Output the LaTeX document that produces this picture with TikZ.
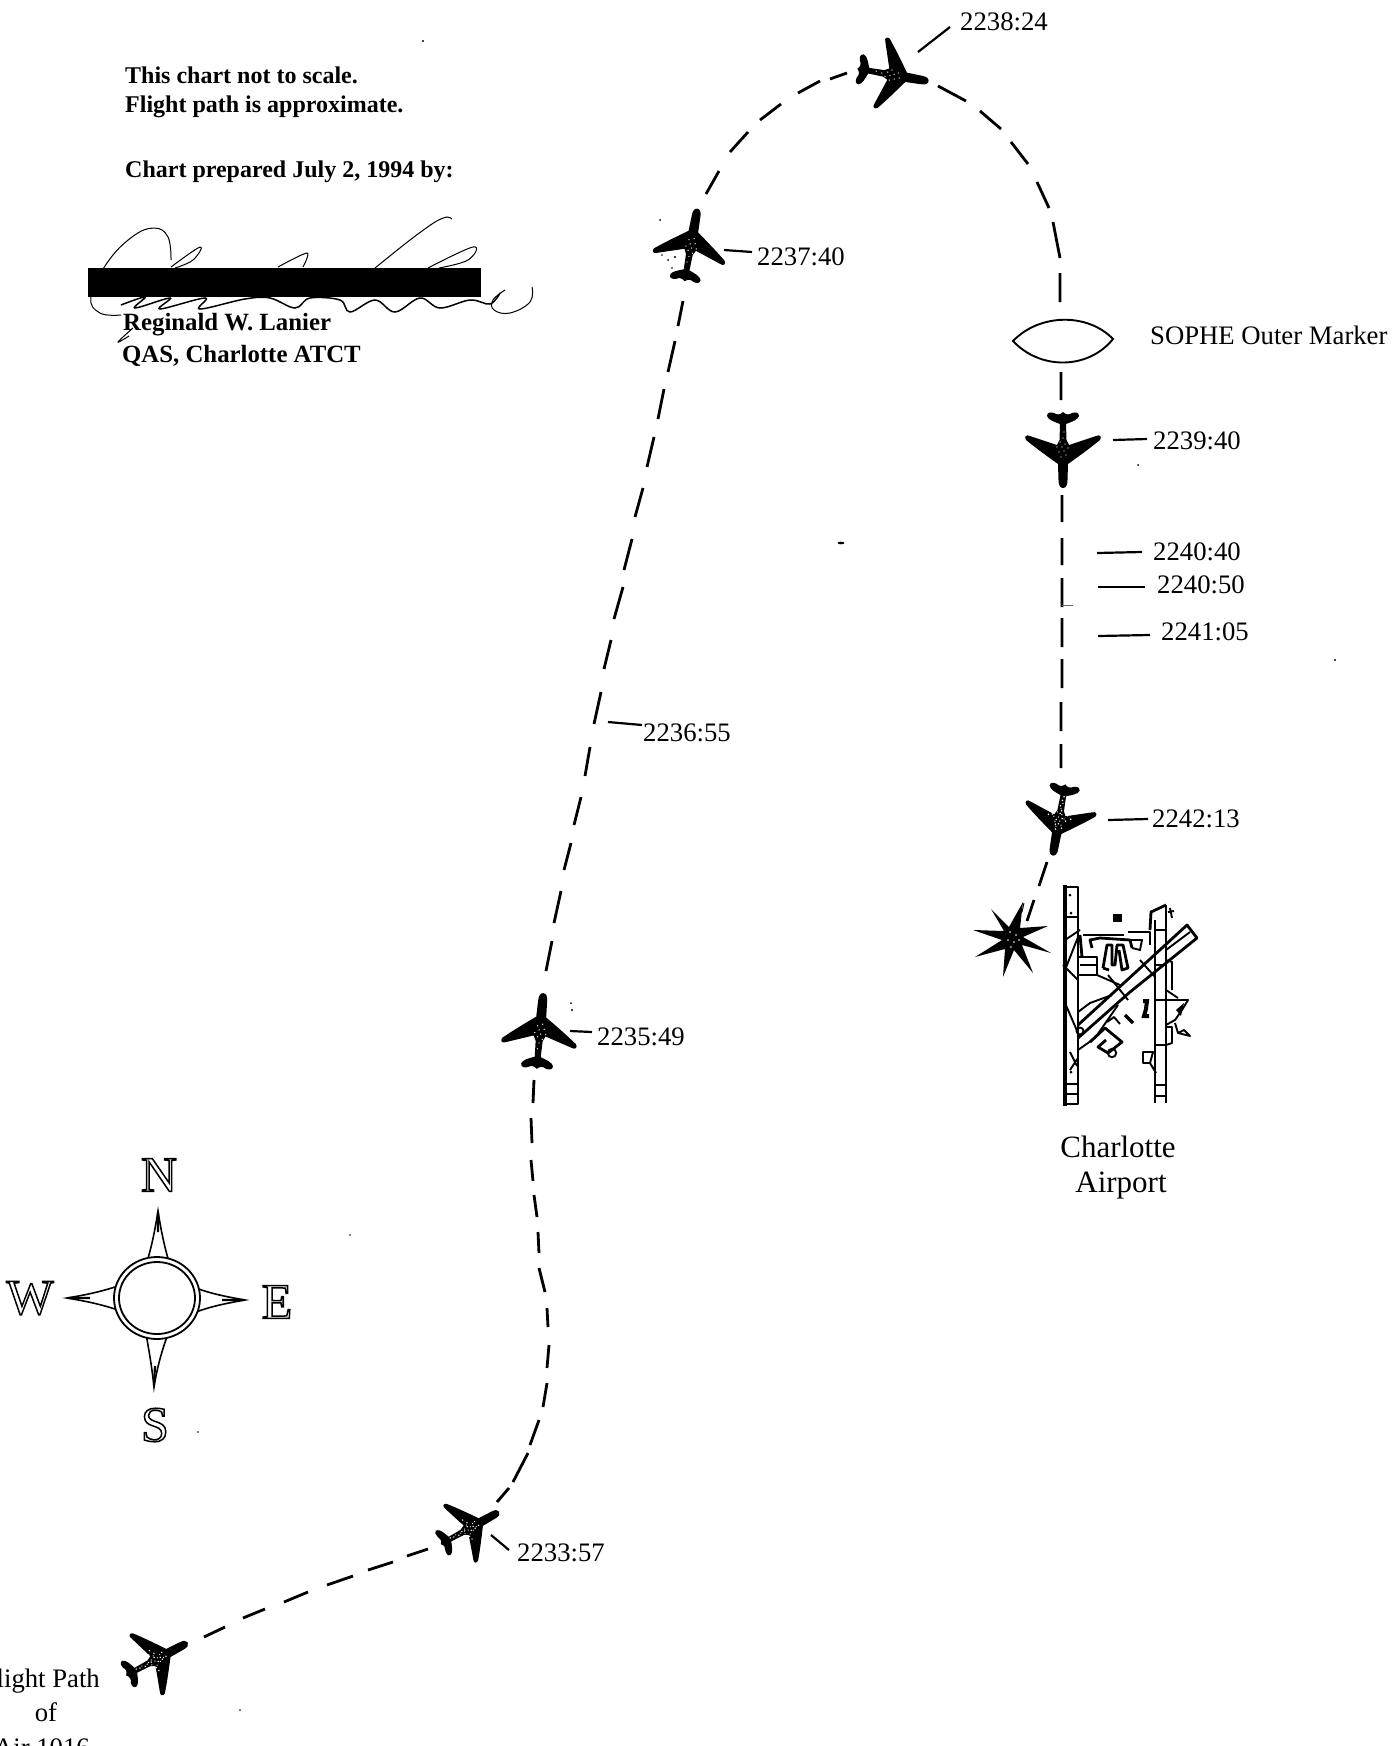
\documentclass[tikz,border=0pt]{standalone}
\usepackage{fontspec}
\setmainfont{Liberation Serif}
\newcommand{\hollowtxt}[1]{\special{pdf:code 1 Tr 1.5 w}#1\special{pdf:code 0 Tr 1 w}}
\tikzset{
  planeshape/.pic={
    \fill[black] (0,-38) .. controls (3,-38) and (4.5,-35) .. (4.5,-30) -- (5,-14)
      .. controls (12,-9) and (26,1) .. (37,10) .. controls (39,13) and (37,16) .. (33,14)
      -- (6,5) -- (3.5,10) -- (3,26) .. controls (8,28) and (15,30) .. (16,34)
      .. controls (16,38) and (12,38) .. (9,37) .. controls (6,35) and (3,35) .. (0,38)
      .. controls (-3,35) and (-6,35) .. (-9,37) .. controls (-12,38) and (-16,38) .. (-16,34)
      .. controls (-15,30) and (-8,28) .. (-3,26) -- (-3.5,10) -- (-6,5) -- (-33,14)
      .. controls (-37,16) and (-39,13) .. (-37,10) .. controls (-26,1) and (-12,-9) .. (-5,-14)
      -- (-4.5,-30) .. controls (-4.5,-35) and (-3,-38) .. (0,-38) -- cycle;
    \foreach \a/\b in {-3/-5,2/-7,-1/-1,4/-2,-5/2,1/3,6/3,-2/6,3/8,0/12,-1/18}
      \fill[white] (\a,\b) circle (.7);
  },
  speckle/.pic={
    \foreach \a/\b in {-4/-8,0/-4,3/-5,-7/0,-3/2,3/0,8/5,-8/6,0/7,-1/10,1/15,0/21,-1/25,2/-10,-12/3,12/4}
      \fill[white] (\a,\b) circle (.9);
  },
  tlabel/.style={font=\fontsize{26.7}{30}\selectfont, inner sep=0pt, anchor=west},
  boldnote/.style={font=\fontsize{24}{30}\selectfont\bfseries, inner sep=0pt, anchor=west},
  boldnoteb/.style={font=\fontsize{24.8}{30}\selectfont\bfseries, inner sep=0pt, anchor=west},
  bignote/.style={font=\fontsize{31}{34}\selectfont, inner sep=0pt},
  cardinal/.style={font=\fontsize{50}{54}\selectfont, inner sep=0pt},
  leader/.style={draw=black, line width=2.2pt},
  fltpath/.style={draw=black, line width=2.8pt},
  sigline/.style={draw=black, line width=1pt},
  rwy/.style={draw=black, line width=2.8pt, line join=round},
  apt/.style={draw=black, line width=1.9pt, line join=round},
  spike/.style={draw=black, line width=1.6pt, fill=white, line join=miter},
  specks/.style={fill=black},
}
\begin{document}
\begin{tikzpicture}[x=1pt,y=-1pt]
\useasboundingbox (0,0) rectangle (1394,1746);
\fill[white] (0,0) rectangle (1394,1746);

% --- notes
\node[boldnote] (n1) at (125,75) {This chart not to scale.};
\node[boldnote] (n2) at (125,107) {Flight path is approximate.};
\node[boldnote] (n3) at (125,172) {Chart prepared July 2, 1994 by:};
\node[boldnoteb] (n4) at (123,325) {Reginald W. Lanier};
\node[boldnoteb] (n5) at (122,356) {QAS, Charlotte ATCT};

% --- signature
\draw[sigline] plot[smooth,tension=.7] coordinates {(171,260) (168,237) (154,228) (132,237) (107,263) (91,297) (100,313) (121,315)};
\draw[sigline] plot[smooth,tension=.7] coordinates {(171,267) (200,247) (193,260) (175,268)};
\draw[sigline] plot[smooth,tension=.5] coordinates {(278,267) (307,253) (303,267)};
\draw[sigline] plot[smooth,tension=.5] coordinates {(375,268) (410,240) (435,222) (447,217) (452,219)};
\draw[sigline] plot[smooth,tension=.7] coordinates {(428,268) (473,247) (468,260) (439,268)};
\draw[sigline] plot[smooth,tension=.7] coordinates {(505,290) (493,300) (494,310) (510,313) (530,302) (532,287)};
\draw[sigline,line width=1.5pt] plot[smooth,tension=.6] coordinates {(121,305) (145,297) (135,308) (170,298) (160,309) (205,298) (200,309) (245,299) (270,298) (295,308) (310,298) (340,300) (350,312) (375,300) (395,312) (420,298) (440,308) (470,300) (490,304) (500,293)};
\draw[sigline] plot[smooth,tension=.7] coordinates {(133,328) (118,342) (129,336)};
\fill[black] (88,268) rectangle (481,297);

% --- flight path
\draw[fltpath]
  (204,1637)--(225,1627) (243,1618)--(265,1609) (284,1602)--(308,1592)
  (327,1585)--(353,1576) (368,1570)--(393,1562) (407,1556)--(428,1549)
  (497,1502)--(509,1488) (513,1482)--(528,1453) (530,1445)--(539,1420)
  (543,1407)--(547,1383) (547,1368)--(549,1345) (548,1327)--(547,1308)
  (545,1292)--(539,1268) (539,1253)--(538,1232) (537,1217)--(534,1195)
  (533,1181)--(531,1160) (532,1143)--(531,1118) (533,1103)--(534,1080)
  (546,971)--(552,941) (554,923)--(561,891) (564,870)--(571,843)
  (574,825)--(581,797) (585,776)--(590,747) (594,724)--(601,692)
  (604,669)--(611,640) (614,619)--(623,587) (624,570)--(632,539)
  (635,517)--(643,488) (647,467)--(654,437) (658,419)--(664,389)
  (668,372)--(675,341) (678,326)--(683,301)
  (706,194)--(719,171) (730,152)--(748,132) (760,120)--(781,104)
  (798,93)--(820,81) (830,79)--(847,73)
  (938,86)--(966,101) (980,111)--(1001,129) (1011,142)--(1028,164)
  (1037,182)--(1049,208) (1053,222)--(1060,258) (1060,273)--(1060,302)
  (1061,372)--(1061,400)
  (1062,495)--(1062,522) (1062,538)--(1062,565) (1062,578)--(1062,607)
  (1062,618)--(1062,647) (1062,659)--(1062,688) (1061,702)--(1061,731)
  (1061,744)--(1061,768) (1047,862)--(1039,886) (1034,900)--(1027,921);
\draw[black,line width=1pt] (1024,903)--(1022,912);
\draw[black!60,line width=1pt] (1062,605)--(1073,605);

% --- aeroplanes
\pic (p0)  [rotate=-62,scale=.92] at (157,1659) {planeshape};
\pic (p0s) [rotate=-62,scale=.92] at (157,1659) {speckle};
\pic (p33) [rotate=-61,scale=.88] at (470,1528) {planeshape};
\pic (p33s)[rotate=-61,scale=.88] at (470,1528) {speckle};
\pic (p35) [rotate=-5]            at (540,1031) {planeshape};
\pic (p37) [rotate=-10,scale=.97] at (691,245)  {planeshape};
\pic (p38) [rotate=-100,scale=.95] at (893,75)  {planeshape};
\pic (p39) [rotate=180]           at (1063,450) {planeshape};
\pic (p42) [rotate=170,scale=.95] at (1059,820) {planeshape};
\pic (p42s)[rotate=170,scale=.95] at (1059,820) {speckle};

% --- time labels and leaders
\node[tlabel] (l38) at (960,22)   {2238:24};
\node[tlabel] (l37) at (757,257)  {2237:40};
\node[tlabel] (l39) at (1153,441) {2239:40};
\node[tlabel] (l40) at (1153,552) {2240:40};
\node[tlabel] (l50) at (1157,585) {2240:50};
\node[tlabel] (l05) at (1161,632) {2241:05};
\node[tlabel] (l13) at (1152,819) {2242:13};
\node[tlabel] (l55) at (643,733)  {2236:55};
\node[tlabel] (l49) at (597,1037) {2235:49};
\node[tlabel] (l57) at (517,1553) {2233:57};
\coordinate (a38) at (918,52);
\coordinate (a37) at (724,250);
\coordinate (a39) at (1113,440);
\coordinate (a40) at (1097,553);
\coordinate (a50) at (1098,587);
\coordinate (a05) at (1098,636);
\coordinate (a13) at (1108,820);
\coordinate (a55) at (608,722);
\coordinate (a49) at (570,1031);
\coordinate (a57) at (491,1535);
\draw[leader] (a38) -- ([xshift=-10pt,yshift=-5pt]l38.west);
\draw[leader] (a37) -- ([xshift=-5pt,yshift=5pt]l37.west);
\draw[leader] (a39) -- ([xshift=-6pt,yshift=2pt]l39.west);
\draw[leader] (a40) -- ([xshift=-11pt]l40.west);
\draw[leader] (a50) -- ([xshift=-12pt,yshift=-2pt]l50.west);
\draw[leader] (a05) -- ([xshift=-11pt,yshift=-3pt]l05.west);
\draw[leader] (a13) -- ([xshift=-4pt]l13.west);
\draw[leader] (a55) -- ([xshift=-1pt,yshift=8pt]l55.west);
\draw[leader] (a49) -- ([xshift=-5pt,yshift=5pt]l49.west);
\draw[leader] (a57) -- ([xshift=-8pt,yshift=3pt]l57.west);

% --- outer marker
\draw[black,line width=1.9pt] (1013,341) .. controls (1040,313) and (1088,313) .. (1113,339)
   .. controls (1088,370) and (1040,370) .. (1013,341) -- cycle;
\node[tlabel] (sophe) at (1150,335) {SOPHE Outer Marker};

% --- crash star
\fill[black] (973,930) -- (1004,931) -- (991,909) -- (1009,927) -- (1023,902) -- (1020,928)
  -- (1048,926) -- (1023,937) -- (1051,953) -- (1022,945) -- (1033,973) -- (1014,950)
  -- (1003,977) -- (1005,949) -- (975,957) -- (1002,940) -- cycle;
\foreach \a/\b in {1010/932,1016/935,1008/940,1014/942,1019/940,1011/947}
  \fill[white] (\a,\b) circle (.9);

% --- airport
\draw[black,line width=3.6pt] (1065,885) -- (1065,1106);
\draw[rwy] (1065,887) -- (1078,887) -- (1078,1104) -- (1065,1104);
\draw[apt] (1065,1094) -- (1078,1094) (1065,1084) -- (1078,1084) (1065,917) -- (1078,917);
\fill[black] (1070,895) circle (1.5) (1071,913) circle (1.5) (1071,1072) circle (1.5);
\draw[rwy] (1155,920) -- (1155,1103) (1166,905) -- (1166,1103);
\draw[rwy] (1150,930) -- (1151,912) -- (1166,905);
\draw[apt] (1155,1000) -- (1166,1000) (1155,1045) -- (1166,1045) (1155,1085) -- (1166,1085) (1155,1096) -- (1166,1096) (1155,965) -- (1166,965) (1155,930) -- (1166,930);
% main runway
\draw[rwy] (1078,1025) -- (1113,993) -- (1187,925) -- (1197,938) -- (1130,992) -- (1078,1038);
\draw[apt] (1078,1012) -- (1090,1003) -- (1112,995);
\draw[apt] (1108,975) -- (1128,1000) (1140,960) -- (1155,977);
\draw[apt] (1080,1031) circle (3.5);
\draw[apt] (1078,1050) -- (1095,1038) -- (1118,1005);
% terminal
\draw[rwy] (1080,935) -- (1082,957);
\draw[apt] (1083,935) -- (1124,935) (1128,932) -- (1150,932) -- (1150,945);
\draw[rwy] (1092,948) -- (1090,940) -- (1100,938) -- (1130,940) -- (1132,948);
\draw[apt] (1132,948) -- (1140,950) -- (1142,940) -- (1130,940);
\draw[rwy] (1103,968) -- (1107,945) -- (1112,945) -- (1112,965) -- (1115,965) -- (1117,945) -- (1123,945) -- (1128,968) -- (1122,970) -- (1119,950);
\draw[rwy] (1103,968) -- (1109,970);
\draw[rwy] (1078,957) -- (1097,957) -- (1097,975) -- (1078,975);
\draw[apt] (1080,965) -- (1097,965) (1097,975) -- (1120,985);
\fill[black] (1113,914) rectangle (1122,922);
% left side taxiways
\draw[apt] (1065,940) -- (1080,930) (1065,970) -- (1078,937) (1063,965) -- (1078,980) (1065,1003) -- (1078,1033) (1070,1052) -- (1077,1066) (1078,1058) -- (1070,1070);
% block south of the runway
\draw[rwy] (1090,1042) -- (1105,1028) -- (1122,1042) -- (1108,1053) -- (1098,1047) -- (1106,1040);
\draw[apt] (1112,1053) circle (4.2);
\draw[apt] (1107,1022) -- (1114,1017) -- (1120,1024);
\draw[black,line width=3.2pt] (1125,1015) -- (1133,1023);
\draw[black,line width=4pt] (1143,1001) -- (1147,1001) -- (1146,1009) -- (1144,1016) -- (1149,1016);
% east side
\draw[apt] (1166,1000) -- (1188,1000) -- (1182,1010) -- (1175,1020) -- (1166,1025);
\fill[black] (1176,1010) -- (1184,1003) -- (1181,1016) -- cycle;
\draw[apt] (1175,1023) -- (1178,1033) -- (1190,1036) -- (1184,1030) -- (1178,1033);
\draw[apt] (1166,1027) -- (1172,1027) -- (1172,1043) -- (1166,1045);
\draw[apt] (1166,960) -- (1172,962) -- (1172,990) (1166,990) -- (1178,998);
\draw[apt] (1143,1052) -- (1153,1052) -- (1150,1063) -- (1143,1063) -- cycle (1150,1063) -- (1156,1073);
\draw[apt] (1170,908) -- (1172,918) (1168,912) -- (1174,911);
\draw[apt] (1166,950) -- (1190,932);

\node[bignote] (chr) at (1118,1147) {Charlotte};
\node[bignote] (apn) at (1121,1186) {Airport};

% --- compass
\draw[spike] (147,1262) .. controls (152,1245) and (155,1230) .. (158,1211) .. controls (161,1230) and (164,1245) .. (169,1262) -- cycle;
\draw[spike] (146,1334) .. controls (149,1350) and (152,1368) .. (154,1387) .. controls (157,1368) and (162,1350) .. (168,1334) -- cycle;
\draw[spike] (118,1286) .. controls (100,1292) and (85,1295) .. (67,1298) .. controls (85,1301) and (100,1304) .. (118,1310) -- cycle;
\draw[spike] (196,1288) .. controls (212,1294) and (228,1297) .. (245,1300) .. controls (228,1303) and (212,1306) .. (196,1312) -- cycle;
\draw[black,line width=2.2pt] (158,1213) -- (158,1232) (154,1385) -- (155,1366) (69,1298) -- (90,1298) (243,1300) -- (222,1300);
\draw[black,line width=1.8pt,fill=white] (157,1298) ellipse [x radius=43,y radius=41];
\draw[black,line width=1.8pt,fill=white] (157,1298) ellipse [x radius=38,y radius=36];
\node[cardinal] (cn) at (159,1175) {\hollowtxt{N}};
\node[cardinal] (cw) at (30,1298)  {\hollowtxt{W}};
\node[cardinal] (ce) at (277,1302) {\hollowtxt{E}};
\node[cardinal] (cs) at (155,1425) {\hollowtxt{S}};

% --- stray marks of the scan
\fill[specks] (841,543) ellipse [x radius=3.5,y radius=1.3];
\foreach \a/\b in {423,38/ 0}{}
\fill[specks] (423,41) circle (1.1) (572,1010) circle (1.2) (571,1003) circle (1) (660,220) circle (1)
  (668,260) circle (1) (675,257) circle (1.1) (662,255) circle (.9) (672,268) circle (.8) (680,238) circle (.9)
  (1335,660) circle (1.2) (1138,465) circle (1) (350,1235) circle (.9) (198,1432) circle (.8) (240,1710) circle (.8);

% --- caption, cut by the page edge
\node[tlabel,anchor=east] (c1) at (100,1681) {Flight Path};
\node[tlabel,anchor=center] (c2) at (46,1712) {of};
\node[tlabel,anchor=east] (c3) at (90,1748) {USAir 1016};
\end{tikzpicture}
\end{document}
